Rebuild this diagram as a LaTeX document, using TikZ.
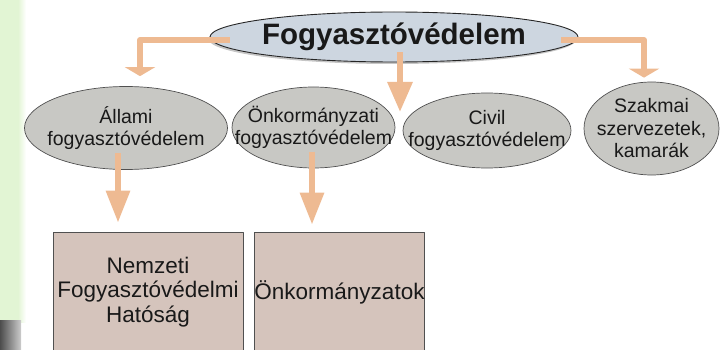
\documentclass[tikz,border=0pt]{standalone}
\usepackage{fontspec}
\setmainfont{Liberation Sans}
\usetikzlibrary{arrows.meta,shapes.geometric,shadows}

\definecolor{nyil}{RGB}{238,186,146}
\definecolor{fokek}{RGB}{205,214,224}
\definecolor{szurke}{RGB}{200,200,196}
\definecolor{doboz}{RGB}{213,196,188}
\definecolor{keret}{RGB}{80,80,80}
\definecolor{csik}{RGB}{226,245,212}

\tikzset{
  fofogalom/.style={ellipse, draw=black!85, line width=0.9pt, fill=fokek,
    minimum width=368pt, minimum height=50pt, inner sep=0pt,
    drop shadow={shadow xshift=-1.5pt, shadow yshift=-2pt, opacity=0.45}},
  ag/.style={ellipse, draw=keret, line width=0.7pt, fill=szurke, inner sep=0pt},
  szoveg/.style={align=center, text=black!90, inner sep=0pt,
    font=\fontsize{19.5}{22.5}\selectfont},
  szerv/.style={rectangle, draw=keret, line width=0.7pt, fill=doboz,
    minimum height=120pt, inner sep=0pt, align=center, text=black!90,
    font=\fontsize{22.5}{24.5}\selectfont},
  felsonyil/.style={draw=nyil, line width=6pt, -{Triangle[width=30pt,length=9pt]}},
  alsonyil/.style={draw=nyil, line width=6pt, -{Triangle[width=23pt,length=32pt]}}
}

\begin{document}
\begin{tikzpicture}[x=1pt, y=1pt, line join=round]
  % Keret
  \useasboundingbox (0,0) rectangle (722,-350);
  \clip (0,0) rectangle (722,-350);

  % Bal oldali csík
  \fill[csik] (0,0) rectangle (18,-322);
  \shade[left color=csik, right color=white] (18,0) rectangle (26,-322);
  \shade[left color=black!70, right color=gray!40] (0,-320) rectangle (21,-350);

  % Főfogalom
  \node[fofogalom] (fogy) at (394,-37) {};
  \node[font=\fontsize{29.5}{32}\selectfont\bfseries, text=black!90] (fogyszoveg)
    at (fogy) {Fogyasztóvédelem};

  % Ágak
  \node[ag, minimum width=203pt, minimum height=83pt] (allami) at (126,-128) {};
  \node[szoveg] (allamiszoveg) at (allami) {Állami\\fogyasztóvédelem};
  \node[ag, minimum width=163pt, minimum height=81pt] (onk) at (313.5,-127.5) {};
  \node[szoveg] (onkszoveg) at (onk) {Önkormányzati\\fogyasztóvédelem};
  \node[ag, minimum width=168pt, minimum height=75pt] (civil) at (487,-130.5) {};
  \node[szoveg] (civilszoveg) at (civil) {Civil\\fogyasztóvédelem};
  \node[ag, minimum width=135pt, minimum height=93pt] (szakmai) at (651.5,-128.5) {};
  \node[szoveg] (szakmaiszoveg) at (szakmai) {Szakmai\\szervezetek,\\kamarák};

  % Szervezetek
  \node[szerv, minimum width=190pt] (nfh) at (148,-292)
    {Nemzeti\\Fogyasztóvédelmi\\Hatóság};
  \node[szerv, minimum width=169pt] (onkdoboz) at (339.5,-292) {Önkormányzatok};

  % Nyilak
  \coordinate (kozep) at (400,-112);
  \draw[felsonyil] ([xshift=20pt,yshift=-3pt]fogy.west)
    -| ([xshift=14pt,yshift=10pt]allami.north);
  \draw[felsonyil] ([xshift=-17pt,yshift=-3pt]fogy.east)
    -| ([xshift=-7.5pt,yshift=4pt]szakmai.north);
  \draw[alsonyil, -{Triangle[width=24pt,length=30pt]}]
    ([xshift=6pt,yshift=10pt]fogy.south) -- (kozep);
  \draw[alsonyil] ([xshift=-8pt,yshift=-25pt]allami.center)
    -- ([xshift=-30pt,yshift=9pt]nfh.north);
  \draw[alsonyil] ([xshift=-1.5pt,yshift=-24pt]onk.center)
    -- ([xshift=-27.5pt,yshift=7pt]onkdoboz.north);
\end{tikzpicture}
\end{document}
